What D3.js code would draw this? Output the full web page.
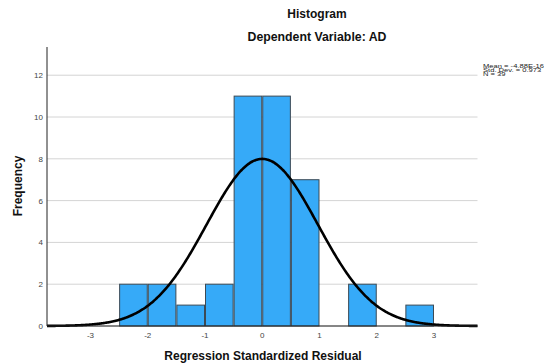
<!DOCTYPE html>
<html><head><meta charset="utf-8">
<script src="https://cdn.jsdelivr.net/npm/d3@7"></script>
<style>body{margin:0;background:#fff;} text{font-family:"Liberation Sans",Arial,sans-serif;}</style>
</head><body>
<svg id="c" width="544" height="364"></svg>
<script>
const binStarts = [-2.5,-2,-1.5,-1,-0.5,0,0.5,1,1.5,2,2.5];
const binWidth = 0.5;
const frequencies = [2,2,1,2,11,11,7,0,2,0,1];
const xTicks = [-3,-2,-1,0,1,2,3];
const yTicks = [0,2,4,6,8,10,12];
const stats = {mean:-4.88e-16, sd:0.973, n:39};
const legendLines = ["Mean = -4.88E-16","Std. Dev. = 0.973","N = 39"];

const svg = d3.select("#c");
const x = d3.scaleLinear().domain([-3.76,3.76]).range([47,477.5]);
const y = d3.scaleLinear().domain([0,13.35]).range([326,47]);

// gridlines
svg.append("g").selectAll("line").data(yTicks).join("line")
  .attr("x1",x(-3.76)).attr("x2",x(3.76))
  .attr("y1",d=>y(d)).attr("y2",d=>y(d))
  .attr("stroke","#d4d4d4").attr("stroke-width",1);

// bars
const bars = binStarts.map((s,i)=>({s,f:frequencies[i]})).filter(d=>d.f>0);
svg.append("g").selectAll("rect").data(bars).join("rect")
  .attr("x",d=>x(d.s)+0.5)
  .attr("width",d=>x(d.s+binWidth)-x(d.s)-1)
  .attr("y",d=>y(d.f))
  .attr("height",d=>y(0)-y(d.f))
  .attr("fill","#36aaf8").attr("stroke","#3c4a55").attr("stroke-width",1);

// normal curve
const pts = d3.range(-3.76,3.7601,0.02).map(v=>[v, stats.n*binWidth/(stats.sd*Math.sqrt(2*Math.PI))*Math.exp(-0.5*((v-stats.mean)/stats.sd)**2)]);
svg.append("path").datum(pts)
  .attr("d",d3.line().x(d=>x(d[0])).y(d=>y(d[1])).curve(d3.curveBasis))
  .attr("fill","none").attr("stroke","#000").attr("stroke-width",2.6);

// axes
svg.append("line").attr("x1",x(-3.76)).attr("x2",x(-3.76)).attr("y1",y(13.35)).attr("y2",y(0))
  .attr("stroke","#222").attr("stroke-width",1);
svg.append("line").attr("x1",x(-3.76)).attr("x2",x(3.76)).attr("y1",y(0)).attr("y2",y(0))
  .attr("stroke","#222").attr("stroke-width",1);

svg.append("g").selectAll("text").data(yTicks).join("text")
  .attr("x",43).attr("y",d=>y(d)+3).attr("text-anchor","end")
  .attr("font-size",8).attr("fill","#444").text(d=>d);
svg.append("g").selectAll("text").data(xTicks).join("text")
  .attr("x",d=>x(d)).attr("y",337.5).attr("text-anchor","middle")
  .attr("font-size",8).attr("fill","#444").text(d=>d);

// titles
svg.append("text").attr("x",317).attr("y",18.3).attr("text-anchor","middle")
  .attr("font-size",12).attr("font-weight","bold").attr("fill","#111").text("Histogram");
svg.append("text").attr("x",317).attr("y",40.5).attr("text-anchor","middle")
  .attr("font-size",12.3).attr("font-weight","bold").attr("fill","#111").text("Dependent Variable: AD");
svg.append("text").attr("x",263).attr("y",359.5).attr("text-anchor","middle")
  .attr("font-size",12).attr("font-weight","bold").attr("fill","#111").text("Regression Standardized Residual");
svg.append("text").attr("transform","translate(22,186) rotate(-90)").attr("text-anchor","middle")
  .attr("font-size",12).attr("font-weight","bold").attr("fill","#111").text("Frequency");

// legend (wide, short glyphs as in the reference)
svg.append("g").selectAll("text").data(legendLines).join("text")
  .attr("transform",(d,i)=>`translate(483,${67.8+i*4.3}) scale(1,0.68)`)
  .attr("font-size",7.6).attr("fill","#222").text(d=>d);
</script>
</body></html>
